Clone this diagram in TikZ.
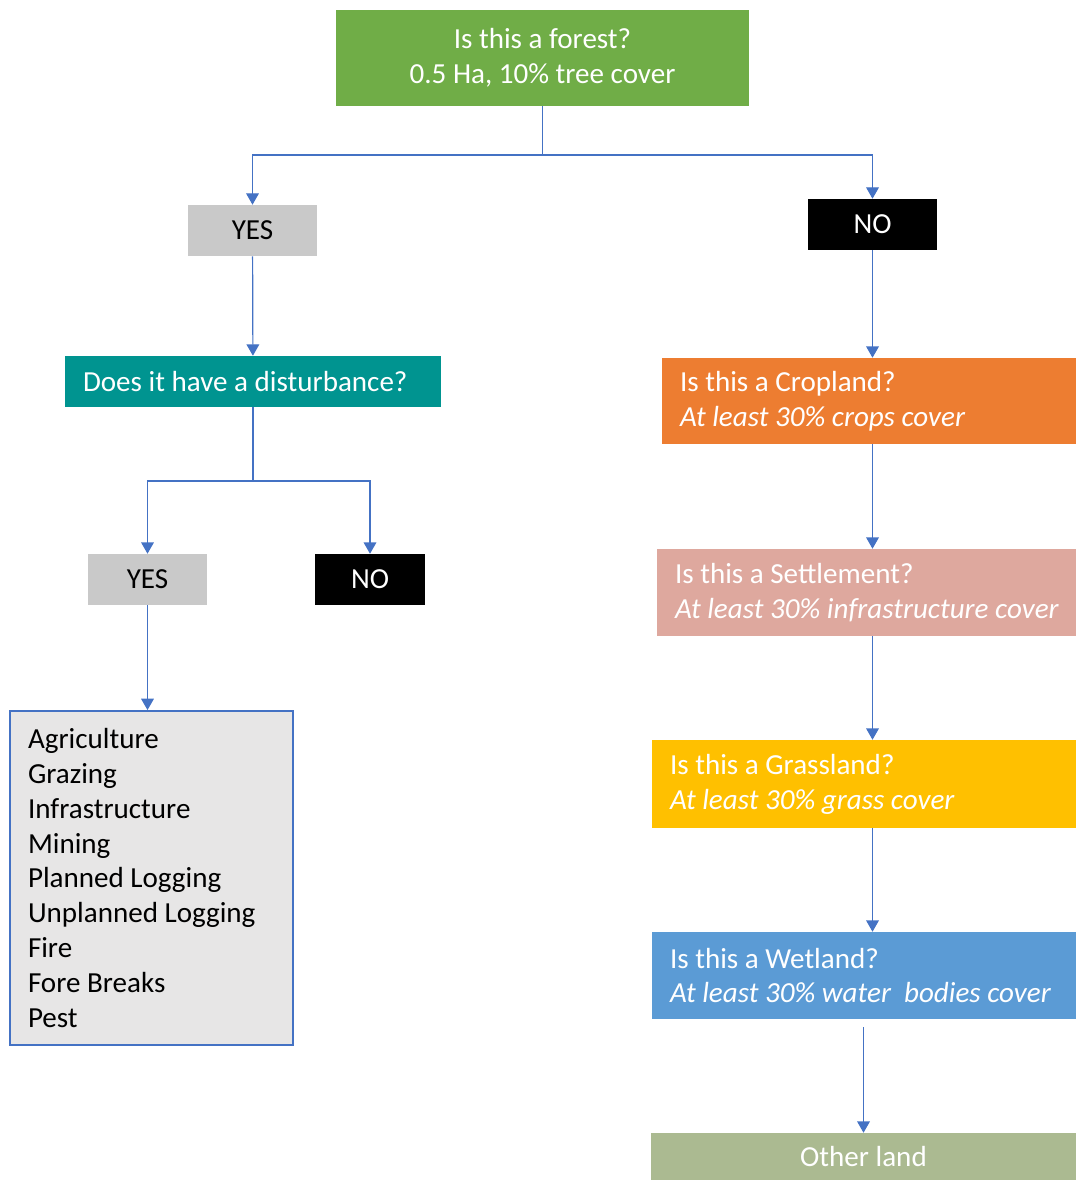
\documentclass[tikz,border=0pt]{standalone}
\usepackage{fontspec}
\setmainfont{Carlito}
\usepackage{tikz}
\usetikzlibrary{arrows.meta,positioning}
\definecolor{forestgreen}{HTML}{70AD47}
\definecolor{disturbteal}{HTML}{009490}
\definecolor{answergray}{HTML}{C9C9C9}
\definecolor{listgray}{HTML}{E7E6E6}
\definecolor{croporange}{HTML}{ED7D31}
\definecolor{settlepink}{HTML}{DEA89E}
\definecolor{grassyellow}{HTML}{FFC000}
\definecolor{wetblue}{HTML}{5B9BD5}
\definecolor{otherolive}{HTML}{ABBA91}
\definecolor{arrowblue}{HTML}{4472C4}
\newcommand{\coverline}[1]{\textit{\mbox{#1}}}

\begin{document}
\begin{tikzpicture}[
  x=0.75pt, y=-0.75pt,
  font=\fontsize{21.8}{26.2}\selectfont,
  topbox/.style={rectangle, inner sep=0pt, align=center, text=white},
  qbox/.style={rectangle, inner ysep=0pt, inner xsep=13.5pt, align=flush left, text=white},
  answer/.style={rectangle, minimum height=38.25pt, inner sep=0pt},
  flow/.style={-{Triangle[length=8.5pt, width=9.5pt]}, line width=0.9pt, arrowblue},
  link/.style={line width=0.9pt, arrowblue}
]
\useasboundingbox (0,0) rectangle (1076,1180);

% forest question and first answers
\node[topbox, fill=forestgreen, minimum width=309.75pt, minimum height=72pt] (forest) at (542.5,58)
  {Is this a forest?\\0.5 Ha, 10\% tree cover};
\node[answer, fill=answergray, minimum width=96.75pt] (yes1) at (252.5,230.5) {YES};
\node[answer, fill=black, text=white, minimum width=96.75pt] (no1) at (872.5,224.5) {NO};

% left branch
\node[qbox, fill=disturbteal, minimum width=282pt, minimum height=38.25pt, text width=255pt] (dist) at (253,381.5)
  {Does it have a disturbance?};
\node[answer, fill=answergray, minimum width=89.25pt] (yes2) at (147.5,579.5) {YES};
\node[answer, fill=black, text=white, minimum width=82.5pt] (no2) at (370,579.5) {NO};
\node[qbox, text=black, draw=arrowblue, line width=1.4pt, fill=listgray, minimum width=212.25pt, minimum height=250.5pt, text width=185.25pt] (causes) at (151.5,878)
  {Agriculture\\Grazing\\Infrastructure\\Mining\\Planned Logging\\Unplanned Logging\\Fire\\Fore Breaks\\Pest};

% right branch
\node[qbox, fill=croporange, minimum width=310.5pt, minimum height=64.5pt, text width=283.5pt] (crop) at (869,401)
  {Is this a Cropland?\\\coverline{At least 30\% crops cover}};
\node[qbox, fill=settlepink, minimum width=314.25pt, minimum height=65.25pt, text width=287.25pt] (settle) at (866.5,592.5)
  {Is this a Settlement?\\\coverline{At least 30\% infrastructure cover}};
\node[qbox, fill=grassyellow, minimum width=318pt, minimum height=66pt, text width=291pt] (grass) at (864,784)
  {Is this a Grassland?\\\coverline{At least 30\% grass cover}};
\node[qbox, fill=wetblue, minimum width=318pt, minimum height=65.25pt, text width=291pt] (wet) at (864,975.5)
  {Is this a Wetland?\\\coverline{At least 30\% water\ \ bodies cover}};
\node[topbox, fill=otherolive, minimum width=318.75pt, minimum height=35.25pt] (other) at (863.5,1156.5) {Other land};

\coordinate (split1) at (542.5,155);
\coordinate (split2) at (253,481);

\draw[link] (forest.south) -- (split1);
\draw[flow] (split1) -| (yes1.north);
\draw[flow] (split1) -| (no1.north);
\draw[flow] (yes1) -- (dist);
\draw[link] (dist.south) -- (split2);
\draw[flow] (split2) -| (yes2.north);
\draw[flow] (split2) -| (no2.north);
\draw[flow] (yes2.south) -- (yes2.south |- causes.north);

\draw[flow] (no1.south) -- (no1.south |- crop.north);
\draw[flow] (crop.south -| no1.south) -- (settle.north -| no1.south);
\draw[flow] (settle.south -| no1.south) -- (grass.north -| no1.south);
\draw[flow] (grass.south -| no1.south) -- (wet.north -| no1.south);
\draw[flow, shorten <=6pt] (wet.south -| other.north) -- (other.north);

\end{tikzpicture}
\end{document}
